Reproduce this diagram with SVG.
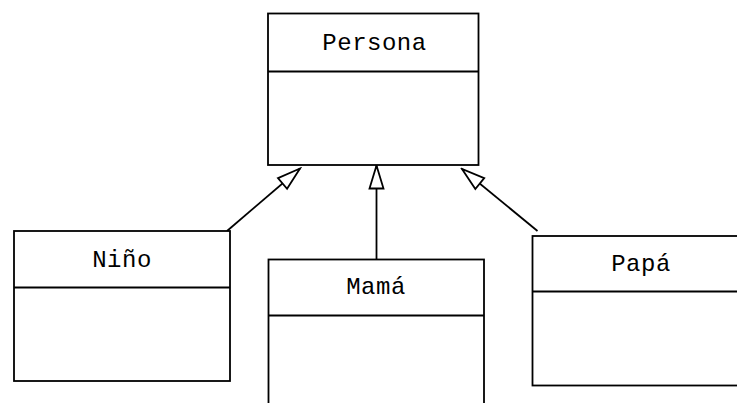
<svg xmlns="http://www.w3.org/2000/svg" width="737" height="403" viewBox="0 0 737 403">
<style>
.box{fill:#fff;stroke:#000;stroke-width:1.8}
.div{stroke:#000;stroke-width:1.8}
.lbl{font-family:"Liberation Mono","Courier New",monospace;font-size:24px;fill:#000;text-anchor:middle;letter-spacing:0.5px}
.conn{stroke:#000;stroke-width:1.8;fill:none;marker-end:url(#tri)}
</style>
<defs>
<marker id="tri" markerUnits="userSpaceOnUse" viewBox="-25 -9 27 18" markerWidth="27" markerHeight="18" refX="0" refY="0" orient="auto">
<path d="M0,0 L-23,-7 L-23,7 Z" fill="#fff" stroke="#000" stroke-width="1.8" stroke-linejoin="miter"/>
</marker>
</defs>
<rect width="737" height="403" fill="#fff"/>
<g id="connectors">
<line class="conn" x1="227" y1="231" x2="300" y2="168.5"/>
<line class="conn" x1="376.5" y1="259.5" x2="376.5" y2="165.5"/>
<line class="conn" x1="537.5" y1="231" x2="462" y2="169"/>
</g>
<g id="persona">
<rect class="box" x="268" y="13.5" width="210.5" height="151.5"/>
<line class="div" x1="268" y1="71.5" x2="478.5" y2="71.5"/>
<text class="lbl" x="374.5" y="50">Persona</text>
</g>
<g id="nino">
<rect class="box" x="14" y="231" width="216" height="150"/>
<line class="div" x1="14" y1="287.5" x2="230" y2="287.5"/>
<text class="lbl" x="122" y="267">Niño</text>
</g>
<g id="mama">
<rect class="box" x="268.5" y="259.5" width="215.5" height="160"/>
<line class="div" x1="268.5" y1="315.5" x2="484" y2="315.5"/>
<text class="lbl" x="376" y="294">Mamá</text>
</g>
<g id="papa">
<rect class="box" x="532.5" y="236" width="220" height="149.5"/>
<line class="div" x1="532.5" y1="291.5" x2="752.5" y2="291.5"/>
<text class="lbl" x="641" y="271">Papá</text>
</g>
</svg>
